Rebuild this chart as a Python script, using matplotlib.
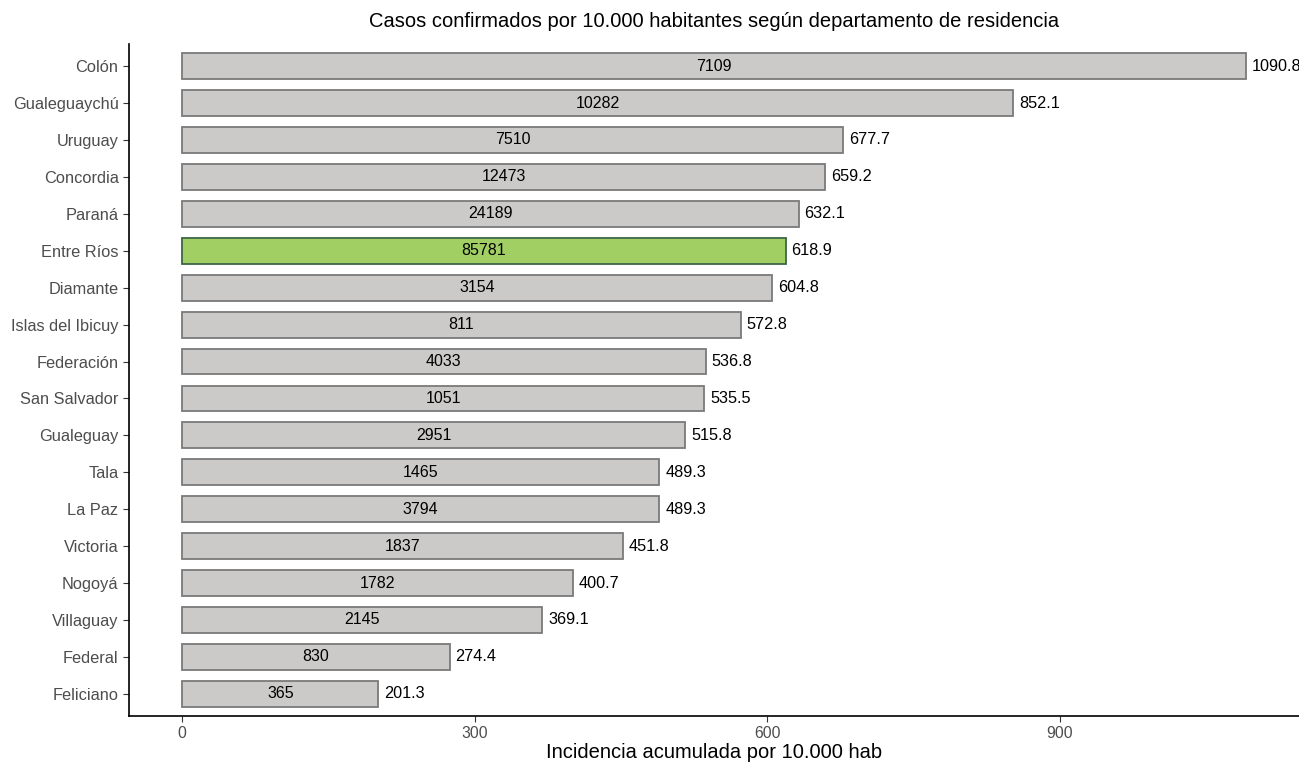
import matplotlib

matplotlib.use("Agg")
import matplotlib.pyplot as plt
import numpy as np

departamentos = ["Colón", "Gualeguaychú", "Uruguay", "Concordia", "Paraná", "Entre Ríos",
                 "Diamante", "Islas del Ibicuy", "Federación", "San Salvador", "Gualeguay",
                 "Tala", "La Paz", "Victoria", "Nogoyá", "Villaguay", "Federal", "Feliciano"]
incidencia = [1090.8, 852.1, 677.7, 659.2, 632.1, 618.9, 604.8, 572.8, 536.8, 535.5,
              515.8, 489.3, 489.3, 451.8, 400.7, 369.1, 274.4, 201.3]
casos = [7109, 10282, 7510, 12473, 24189, 85781, 3154, 811, 4033, 1051,
         2951, 1465, 3794, 1837, 1782, 2145, 830, 365]
x_ticks = [0, 300, 600, 900]

plt.rcParams["font.family"] = ["Liberation Sans", "DejaVu Sans"]

fig = plt.figure(figsize=(12.99, 7.66), dpi=100)
ax = fig.add_axes([129 / 1299, 50 / 766, 1170 / 1299, (716 - 44) / 766])

n = len(departamentos)
ypos = np.arange(n)[::-1]
fills = ["#a2cf64" if d == "Entre Ríos" else "#cbcac8" for d in departamentos]
edges = ["#3b6646" if d == "Entre Ríos" else "#7a7a7a" for d in departamentos]
ax.barh(ypos, incidencia, height=0.7, color=fills, edgecolor=edges, linewidth=1.3)

# casos dentro de la barra, incidencia a la derecha
for y, v, c in zip(ypos, incidencia, casos):
    ax.text(v / 2, y, str(c), ha="center", va="center", fontsize=11.5, color="black")
    ax.text(v + 6, y, f"{v:.1f}", ha="left", va="center", fontsize=11.7, color="black",
            clip_on=False)

xmax = max(incidencia)
ax.set_xlim(-0.05 * xmax, xmax * 1.05)
ax.set_ylim(-0.6, n - 1 + 0.6)
ax.set_yticks(ypos)
ax.set_yticklabels(departamentos)
ax.set_xticks(x_ticks)
ax.tick_params(axis="y", colors="#333333", labelcolor="#4d4d4d", labelsize=11.8,
               length=4, width=0.8)
ax.tick_params(axis="x", colors="#333333", labelcolor="#4d4d4d", labelsize=11.3,
               length=4, width=0.8)
ax.spines["top"].set_visible(False)
ax.spines["right"].set_visible(False)
ax.spines["left"].set_linewidth(1.2)
ax.spines["bottom"].set_linewidth(1.2)
ax.set_xlabel("Incidencia acumulada por 10.000 hab", fontsize=14.5, labelpad=1)
ax.set_title("Casos confirmados por 10.000 habitantes según departamento de residencia",
             fontsize=14.5, pad=12)

fig.savefig("out.png", dpi=100, facecolor="white")
